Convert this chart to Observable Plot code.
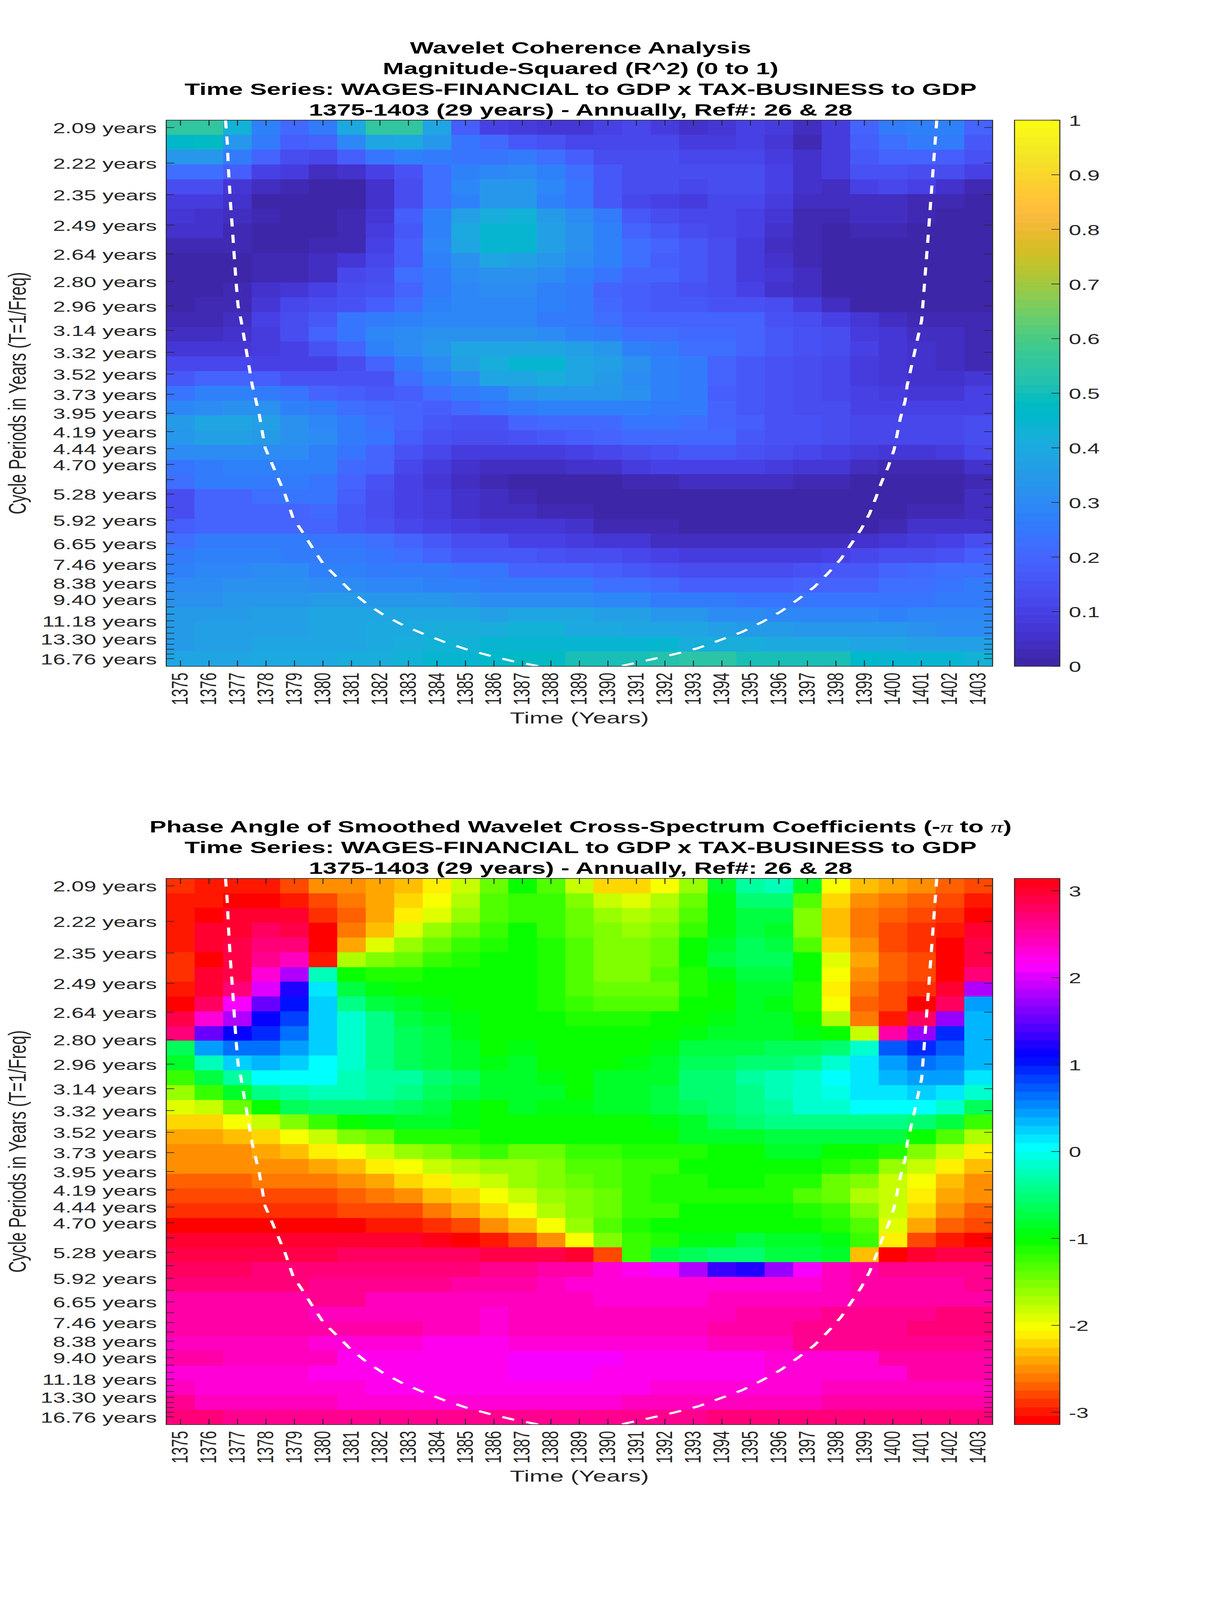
<!DOCTYPE html>
<html>
<head>
<meta charset="utf-8">
<script src="https://cdn.jsdelivr.net/npm/d3@7"></script>
<script src="https://cdn.jsdelivr.net/npm/@observablehq/plot@0.6"></script>
<style>
html,body{margin:0;padding:0;background:#fff;overflow:hidden;}
#page{position:absolute;left:0;top:0;width:3125px;height:6252px;overflow:hidden;font-family:"Liberation Sans",Arial,sans-serif;color:#000;transform-origin:0 0;}
.title{position:absolute;left:0;width:2972px;text-align:center;font-weight:bold;font-size:64.5px;line-height:81px;white-space:nowrap;}
.slot{position:absolute;}
.slot svg{overflow:visible;display:block;}
.pi{font-family:"Liberation Serif",serif;font-weight:normal;font-style:italic;}
</style>
</head>
<body>
<div id="page">
<div class="title" style="top:147px">Wavelet Coherence Analysis<br>Magnitude-Squared (R^2) (0 to 1)<br>Time Series: WAGES-FINANCIAL to GDP x TAX-BUSINESS to GDP<br>1375-1403 (29 years) - Annually, Ref#: 26 &amp; 28</div>
<div class="title" style="top:3190px">Phase Angle of Smoothed Wavelet Cross-Spectrum Coefficients (-<span class="pi">π</span> to <span class="pi">π</span>)<br>Time Series: WAGES-FINANCIAL to GDP x TAX-BUSINESS to GDP<br>1375-1403 (29 years) - Annually, Ref#: 26 &amp; 28</div>
<div class="slot" id="s1" style="left:0;top:449px"></div>
<div class="slot" id="c1" style="left:2596px;top:449px"></div>
<div class="slot" id="s2" style="left:0;top:3412px"></div>
<div class="slot" id="c2" style="left:2596px;top:3412px"></div>
</div>
<script>
// The sandbox window may be shorter than the 6252px figure: fit the height to it so nothing is cut off.
document.getElementById("page").style.transform = "scale(1," + Math.min(1, window.innerHeight/6252) + ")";

const years = d3.range(1375, 1404);
const periods = [2.09,2.22,2.35,2.49,2.64,2.80,2.96,3.14,3.32,3.52,3.73,3.95,4.19,4.44,4.70,4.98,5.28,5.59,5.92,6.27,6.65,7.05,7.46,7.90,8.38,8.88,9.40,9.96,10.56,11.18,11.85,12.55,13.30,14.09,14.92,15.81,16.76];
const unlabelledPeriods = [4.98,5.59,6.27,7.05,7.90,8.88,9.96,10.56,11.85,12.55,14.09,14.92,15.81];

// The image rows are evenly spaced in frequency (1/period); this is the frequency span of the axes
const freqTop = 0.4843, freqBottom = 0.0536;

const coherence = [
[.55,.56,.43,.28,.21,.25,.40,.56,.56,.38,.18,.10,.08,.07,.07,.10,.11,.09,.05,.07,.10,.085,.04,.085,.19,.25,.27,.27,.19],
[.46,.47,.34,.25,.18,.20,.29,.38,.40,.34,.24,.21,.17,.15,.12,.12,.12,.11,.09,.09,.10,.07,.03,.08,.18,.23,.26,.25,.17],
[.34,.34,.26,.19,.13,.115,.18,.24,.27,.26,.24,.235,.26,.23,.18,.14,.13,.13,.115,.115,.115,.08,.05,.09,.17,.19,.20,.18,.15],
[.23,.23,.18,.10,.08,.045,.06,.105,.15,.22,.27,.29,.30,.27,.23,.17,.14,.13,.125,.125,.125,.095,.05,.08,.15,.15,.14,.13,.095],
[.14,.14,.07,.04,.03,.015,.015,.05,.135,.22,.29,.34,.34,.29,.24,.17,.14,.13,.115,.13,.13,.10,.05,.045,.10,.115,.095,.06,.03],
[.085,.08,.055,.015,.01,.01,.015,.05,.13,.22,.28,.33,.33,.28,.24,.17,.12,.10,.09,.11,.11,.09,.04,.04,.035,.035,.03,.025,.01],
[.065,.055,.04,.025,.01,.01,.02,.07,.18,.27,.37,.42,.43,.35,.30,.25,.17,.13,.11,.11,.095,.075,.03,.03,.04,.04,.03,.015,.01],
[.055,.05,.03,.005,.005,.005,.02,.09,.17,.28,.40,.44,.45,.37,.32,.27,.20,.17,.14,.12,.10,.05,.03,.005,.02,.02,.005,.005,.005],
[.02,.02,.025,.005,.01,.025,.03,.095,.18,.29,.38,.44,.45,.37,.32,.27,.23,.19,.16,.13,.085,.045,.03,.005,.005,.005,.005,.005,.005],
[.005,.005,.01,.025,.025,.04,.075,.11,.18,.27,.32,.38,.37,.33,.31,.27,.23,.18,.16,.13,.08,.06,.03,.005,.005,.005,.005,.005,.005],
[.005,.005,.01,.02,.03,.045,.11,.14,.23,.26,.30,.32,.32,.31,.28,.24,.20,.19,.16,.13,.09,.075,.04,.005,.005,.005,.005,.005,.005],
[.01,.005,.02,.05,.075,.10,.125,.15,.19,.26,.29,.30,.30,.28,.25,.19,.18,.17,.15,.13,.10,.05,.04,.015,.005,.005,.005,.005,.005],
[.01,.025,.03,.07,.11,.135,.15,.18,.23,.27,.29,.295,.29,.27,.25,.21,.18,.17,.16,.15,.15,.125,.085,.04,.005,.01,.01,.01,.01],
[.025,.03,.04,.10,.135,.17,.24,.26,.28,.285,.29,.295,.285,.26,.25,.22,.20,.19,.19,.19,.19,.15,.125,.095,.065,.035,.03,.03,.03],
[.04,.04,.05,.09,.13,.19,.24,.29,.31,.32,.325,.32,.32,.30,.28,.25,.23,.22,.21,.21,.195,.17,.145,.125,.085,.065,.04,.035,.03],
[.07,.07,.07,.08,.10,.15,.20,.27,.31,.34,.38,.385,.38,.375,.37,.33,.28,.255,.23,.22,.195,.165,.15,.135,.10,.075,.05,.035,.03],
[.12,.12,.115,.105,.10,.105,.14,.20,.26,.31,.37,.41,.44,.44,.39,.365,.32,.28,.25,.20,.17,.155,.14,.11,.09,.065,.05,.045,.025],
[.16,.19,.19,.18,.155,.145,.145,.155,.22,.275,.30,.38,.385,.41,.38,.35,.31,.275,.25,.19,.16,.15,.14,.115,.08,.075,.06,.055,.07],
[.24,.275,.275,.255,.24,.195,.18,.17,.185,.23,.25,.28,.325,.335,.335,.33,.32,.275,.25,.185,.165,.145,.14,.115,.095,.09,.07,.07,.095],
[.285,.31,.315,.315,.28,.25,.225,.21,.19,.185,.205,.235,.26,.28,.28,.28,.28,.26,.25,.19,.17,.15,.14,.125,.10,.10,.095,.095,.105],
[.345,.375,.375,.365,.32,.285,.25,.22,.19,.165,.155,.155,.20,.21,.215,.215,.24,.24,.23,.20,.175,.15,.145,.125,.12,.11,.11,.12,.14],
[.33,.36,.365,.355,.32,.305,.25,.24,.18,.155,.14,.135,.15,.16,.185,.195,.205,.205,.205,.205,.17,.155,.15,.13,.115,.11,.11,.12,.135],
[.30,.305,.31,.31,.30,.28,.24,.20,.15,.11,.09,.085,.09,.09,.10,.12,.135,.15,.16,.16,.155,.14,.115,.10,.08,.065,.07,.08,.12],
[.24,.26,.275,.275,.275,.28,.21,.195,.11,.09,.055,.035,.04,.04,.055,.055,.08,.095,.105,.105,.10,.09,.075,.065,.035,.03,.03,.03,.05],
[.22,.25,.26,.255,.25,.24,.19,.15,.10,.075,.04,.03,.015,0,0,.005,.03,.03,.04,.04,.04,.035,.025,.02,.005,0,.005,.01,.03],
[.14,.19,.195,.23,.235,.24,.18,.13,.10,.08,.05,.035,.03,.005,0,0,0,0,0,0,0,0,0,0,.005,0,0,.01,.04],
[.14,.19,.195,.20,.20,.205,.17,.13,.10,.09,.06,.04,.04,.03,.025,.005,0,0,0,0,0,0,0,0,0,.015,.02,.02,.045],
[.18,.19,.195,.20,.19,.19,.17,.145,.12,.10,.085,.07,.07,.065,.05,.03,.025,.025,0,0,0,.015,.015,.015,.01,.02,.05,.06,.06],
[.225,.25,.255,.265,.25,.245,.235,.23,.19,.165,.14,.125,.10,.095,.085,.075,.07,.045,.045,.04,.04,.04,.04,.045,.06,.07,.085,.10,.125],
[.25,.27,.27,.27,.265,.26,.25,.24,.22,.20,.17,.16,.16,.155,.14,.13,.115,.105,.09,.09,.09,.09,.09,.105,.12,.13,.14,.155,.18],
[.28,.285,.29,.30,.30,.28,.27,.265,.255,.26,.245,.24,.20,.19,.19,.185,.17,.15,.14,.14,.14,.14,.15,.165,.17,.19,.21,.22,.23],
[.31,.31,.315,.32,.32,.31,.30,.29,.285,.275,.27,.25,.265,.255,.25,.23,.22,.205,.185,.18,.18,.18,.19,.195,.20,.22,.225,.235,.255],
[.32,.32,.33,.34,.34,.345,.345,.335,.335,.33,.315,.305,.31,.30,.30,.295,.285,.26,.255,.25,.24,.24,.24,.24,.235,.24,.245,.25,.265],
[.35,.35,.355,.36,.365,.38,.38,.385,.385,.385,.38,.37,.38,.375,.375,.37,.36,.34,.33,.31,.31,.295,.29,.285,.285,.28,.285,.29,.295],
[.355,.36,.365,.37,.37,.38,.39,.40,.405,.41,.41,.41,.43,.43,.395,.395,.39,.385,.38,.36,.355,.345,.34,.34,.33,.33,.32,.31,.31],
[.35,.36,.365,.375,.375,.38,.39,.40,.42,.43,.43,.44,.45,.45,.45,.45,.45,.44,.42,.41,.41,.405,.40,.395,.385,.38,.37,.365,.36],
[.38,.385,.39,.395,.40,.40,.41,.42,.43,.44,.45,.46,.47,.47,.51,.51,.51,.525,.535,.535,.51,.50,.50,.50,.46,.45,.44,.44,.43]
];

const phase = [
[-2.92,-3.03,-3.0,-3.0,-2.83,-2.55,-2.46,-2.39,-2.3,-2.08,-1.8,-1.45,-1.05,-1.3,-1.8,-2.2,-2.2,-2.0,-1.6,-.85,-.3,-.2,-.85,-1.97,-2.32,-2.4,-2.47,-2.67,-2.84],
[-3.03,-3.03,-3.13,-3.13,-3.03,-2.75,-2.58,-2.4,-2.25,-2.0,-1.75,-1.33,-1.25,-1.2,-1.5,-1.8,-1.9,-1.72,-1.4,-.9,-.5,-.5,-1.3,-2.2,-2.48,-2.58,-2.68,-2.84,-3.03],
[-3.03,-3.14,3.02,2.97,3.03,-2.93,-2.68,-2.42,-2.09,-1.9,-1.6,-1.3,-1.22,-1.18,-1.4,-1.62,-1.74,-1.62,-1.3,-.95,-.7,-.7,-1.5,-2.3,-2.58,-2.68,-2.84,-2.93,-3.14],
[-3.03,3.0,3.0,2.82,2.9,-3.13,-2.58,-2.3,-1.9,-1.6,-1.4,-1.22,-1.07,-1.18,-1.4,-1.5,-1.62,-1.5,-1.25,-.93,-.75,-.85,-1.5,-2.3,-2.58,-2.77,-2.86,-3.03,3.02],
[-3.03,3.0,2.92,2.7,2.68,-3.13,-2.39,-1.9,-1.6,-1.4,-1.22,-1.08,-1.07,-1.17,-1.3,-1.5,-1.5,-1.42,-1.07,-.82,-.63,-.78,-1.3,-2.2,-2.48,-2.77,-2.93,-3.14,2.94],
[-2.93,-3.14,2.94,2.63,2.43,-2.95,-1.74,-1.5,-1.4,-1.25,-1.15,-1.07,-1.06,-1.17,-1.28,-1.5,-1.5,-1.42,-1.05,-.72,-.6,-.62,-1.05,-1.9,-2.39,-2.68,-2.84,-3.14,2.86],
[-2.93,3.0,2.9,2.27,1.85,-.22,-1.05,-1.1,-1.1,-1.07,-1.05,-1.04,-1.05,-1.17,-1.3,-1.5,-1.5,-1.3,-1.17,-.92,-.72,-.78,-1.05,-2.0,-2.48,-2.68,-2.84,-3.14,2.72],
[-3.03,2.98,2.74,2.0,1.22,.12,-.78,-.92,-1.0,-1.03,-1.05,-1.05,-1.04,-1.17,-1.3,-1.4,-1.4,-1.4,-1.17,-1.05,-.85,-.85,-1.17,-2.09,-2.58,-2.77,-2.93,3.02,1.84],
[-3.14,2.77,2.09,1.57,1.05,.2,-.47,-.7,-.85,-.98,-1.03,-1.05,-1.04,-1.17,-1.2,-1.3,-1.3,-1.3,-1.05,-1.05,-.85,-.95,-1.17,-2.0,-2.68,-2.84,-3.14,2.77,.45],
[2.9,2.35,1.77,1.15,.8,.25,-.13,-.48,-.72,-.87,-.95,-1.04,-1.05,-1.05,-1.15,-1.17,-1.17,-1.05,-1.05,-.95,-.85,-.85,-1.05,-1.75,-2.58,-3.03,2.77,1.74,.33],
[2.72,1.57,1.15,.92,.65,.2,-.12,-.47,-.63,-.78,-.92,-1.04,-1.0,-1.04,-1.05,-1.05,-1.05,-1.03,-.92,-.82,-.85,-.85,-.9,-1.05,-1.78,2.55,1.72,.92,.33],
[-.6,.4,.65,.65,.45,.23,-.13,-.47,-.6,-.72,-.87,-1.0,-.98,-1.0,-1.05,-1.05,-1.05,-.95,-.78,-.7,-.7,-.62,-.6,-.5,-.13,.7,.92,.72,.33],
[-.82,-.23,.2,.33,.2,.08,-.1,-.42,-.6,-.72,-.87,-.97,-.85,-1.0,-1.02,-1.03,-.9,-.8,-.68,-.62,-.5,-.5,-.4,-.17,.1,.45,.6,.53,.33],
[-1.2,-.75,-.37,0,0,0,-.2,-.3,-.35,-.55,-.65,-.8,-.85,-.98,-1.0,-.87,-.87,-.8,-.5,-.5,-.37,-.25,-.15,0,.1,.33,.42,.42,.17],
[-1.6,-1.25,-.82,-.45,-.33,-.22,-.28,-.35,-.45,-.6,-.75,-.87,-.82,-.82,-1.0,-.87,-.87,-.72,-.58,-.5,-.4,-.27,-.17,-.07,.1,.1,.2,.1,-.13],
[-1.9,-1.8,-1.45,-1.05,-.65,-.53,-.5,-.55,-.6,-.72,-.9,-1.0,-.8,-.95,-.98,-.85,-.85,-.78,-.68,-.5,-.4,-.3,-.15,-.15,0,0,0,-.1,-.6],
[-2.2,-2.2,-2.0,-1.8,-1.5,-1.2,-1.0,-.9,-.88,-.88,-.95,-1.0,-1.0,-1.0,-1.03,-1.03,-1.04,-.9,-.8,-.68,-.55,-.47,-.4,-.4,-.4,-.4,-.57,-.72,-1.25],
[-2.4,-2.4,-2.32,-2.2,-2.0,-1.8,-1.55,-1.4,-1.17,-1.15,-1.12,-1.07,-1.05,-1.05,-1.05,-1.05,-1.05,-1.02,-.87,-.85,-.85,-.72,-.72,-.72,-.72,-.78,-1.0,-1.32,-1.72],
[-2.47,-2.47,-2.47,-2.39,-2.3,-2.09,-2.0,-1.8,-1.6,-1.5,-1.3,-1.2,-1.45,-1.4,-1.25,-1.25,-1.1,-1.1,-1.08,-1.05,-1.02,-.85,-.85,-1.0,-1.0,-1.12,-1.5,-1.8,-2.09],
[-2.55,-2.55,-2.55,-2.47,-2.47,-2.39,-2.3,-2.09,-2.0,-1.8,-1.72,-1.6,-1.58,-1.48,-1.33,-1.3,-1.2,-1.2,-1.07,-1.05,-1.05,-1.05,-1.07,-1.15,-1.18,-1.62,-1.78,-2.09,-2.3],
[-2.68,-2.68,-2.68,-2.62,-2.58,-2.58,-2.47,-2.39,-2.2,-2.09,-1.87,-1.78,-1.6,-1.5,-1.4,-1.3,-1.2,-1.1,-1.08,-1.06,-1.06,-1.08,-1.1,-1.38,-1.48,-1.78,-2.0,-2.3,-2.47],
[-2.84,-2.84,-2.84,-2.77,-2.77,-2.77,-2.68,-2.58,-2.48,-2.3,-2.2,-2.0,-1.8,-1.62,-1.5,-1.38,-1.25,-1.15,-1.1,-1.1,-1.1,-1.1,-1.3,-1.38,-1.68,-1.8,-2.09,-2.39,-2.55],
[-2.93,-2.93,-2.93,-2.93,-2.93,-2.93,-2.84,-2.84,-2.75,-2.58,-2.39,-2.2,-2.0,-1.75,-1.5,-1.38,-1.25,-1.2,-1.07,-1.05,-1.05,-1.05,-1.13,-1.25,-1.5,-1.78,-2.2,-2.47,-2.67],
[-3.14,-3.14,-3.14,-3.14,-3.14,-3.14,-3.14,-3.03,-3.03,-2.93,-2.77,-2.55,-2.3,-2.0,-1.62,-1.3,-1.12,-1.06,-1.05,-1.05,-1.05,-1.05,-1.05,-1.12,-1.33,-1.87,-2.39,-2.68,-2.84],
[3.02,3.02,3.02,3.02,3.02,3.02,3.02,3.02,3.02,3.08,-3.14,-3.03,-2.84,-2.55,-2.0,-1.5,-1.18,-1.1,-.93,-.93,-.72,-.85,-.85,-.95,-1.25,-2.09,-2.75,-3.03,-3.14],
[2.94,2.94,2.94,2.94,2.94,2.94,2.84,2.84,2.84,2.84,2.84,2.92,2.9,2.88,2.98,-2.84,-1.2,-.78,-.65,-.52,-.52,-.72,-.75,-.85,-2.3,-3.1,2.98,2.9,2.9],
[2.78,2.78,2.78,2.7,2.72,2.72,2.72,2.72,2.72,2.72,2.72,2.62,2.65,2.52,2.52,2.35,2.2,2.09,1.8,1.3,1.22,1.68,2.09,2.37,2.5,2.62,2.62,2.62,2.62],
[2.74,2.74,2.74,2.74,2.74,2.62,2.62,2.62,2.62,2.62,2.52,2.52,2.52,2.37,2.35,2.27,2.27,2.27,2.27,2.27,2.27,2.35,2.35,2.42,2.55,2.55,2.55,2.55,2.65],
[2.55,2.55,2.55,2.55,2.55,2.58,2.58,2.45,2.45,2.45,2.45,2.37,2.37,2.37,2.37,2.27,2.27,2.27,2.27,2.37,2.37,2.45,2.45,2.45,2.55,2.55,2.55,2.55,2.55],
[2.55,2.55,2.55,2.55,2.55,2.45,2.45,2.45,2.45,2.45,2.37,2.35,2.4,2.4,2.4,2.4,2.4,2.4,2.4,2.4,2.52,2.52,2.52,2.6,2.6,2.6,2.6,2.72,2.72],
[2.55,2.55,2.55,2.55,2.55,2.47,2.47,2.47,2.47,2.37,2.37,2.35,2.45,2.45,2.45,2.45,2.45,2.45,2.45,2.52,2.52,2.52,2.6,2.6,2.6,2.6,2.72,2.72,2.72],
[2.42,2.42,2.42,2.42,2.42,2.35,2.33,2.33,2.33,2.24,2.22,2.22,2.3,2.3,2.3,2.3,2.3,2.3,2.3,2.45,2.45,2.45,2.57,2.57,2.57,2.57,2.65,2.65,2.65],
[2.5,2.5,2.37,2.37,2.37,2.37,2.25,2.25,2.25,2.25,2.25,2.25,2.12,2.12,2.12,2.12,2.23,2.23,2.23,2.23,2.23,2.35,2.35,2.35,2.35,2.47,2.47,2.47,2.47],
[2.3,2.3,2.3,2.3,2.3,2.22,2.22,2.22,2.22,2.22,2.22,2.22,2.12,2.12,2.12,2.23,2.23,2.23,2.23,2.23,2.23,2.35,2.35,2.35,2.35,2.35,2.47,2.47,2.47],
[2.42,2.33,2.33,2.33,2.33,2.33,2.33,2.23,2.22,2.22,2.22,2.22,2.2,2.2,2.2,2.2,2.2,2.33,2.33,2.33,2.33,2.33,2.33,2.42,2.42,2.42,2.42,2.42,2.42],
[2.58,2.43,2.43,2.43,2.43,2.43,2.35,2.35,2.35,2.35,2.35,2.35,2.35,2.35,2.35,2.35,2.45,2.45,2.45,2.45,2.45,2.45,2.45,2.55,2.55,2.55,2.55,2.55,2.55],
[2.7,2.7,2.6,2.6,2.6,2.6,2.6,2.6,2.6,2.6,2.6,2.6,2.6,2.6,2.6,2.6,2.6,2.6,2.6,2.7,2.7,2.7,2.7,2.7,2.7,2.7,2.7,2.7,2.7]
];

// Cone of influence: year and frequency read along each branch
const coiLeftYears = [1376.58,1376.64,1376.69,1376.75,1376.82,1376.88,1376.95,1377.02,1377.13,1377.52,1377.76,1377.97,1378.32,1378.67,1378.95,1379.30,1379.65,1380.0,1380.49,1380.98,1381.54,1382.1,1382.8,1383.5,1384.27,1385.04,1385.88,1386.7,1387.56];
const coiLeftFreqs = [.4843,.4669,.4429,.4201,.3989,.3791,.3565,.3379,.3260,.2750,.2526,.2259,.2076,.1890,.1706,.1589,.1464,.1347,.1238,.1129,.1028,.0945,.0861,.0794,.0727,.0669,.0618,.0574,.0537];
const coiRightYears = [1401.54,1401.23,1401.01,1400.76,1400.5,1400.43,1400.26,1400.15,1400.04,1399.84,1399.6,1399.4,1399.18,1398.88,1398.53,1398.17,1397.73,1397.24,1396.68,1396.07,1395.41,1394.7,1393.93,1393.16,1392.33,1391.5,1390.68,1390.48];
const coiRightFreqs = [.4843,.3906,.3265,.3010,.2750,.2629,.2490,.2366,.2243,.2112,.1987,.1864,.1739,.1615,.1498,.1381,.1271,.1161,.1065,.0968,.0885,.0806,.0742,.0679,.0631,.0589,.0548,.0538];

const parula = [[.2422,.1504,.6603],[.2504,.1650,.7076],[.2578,.1818,.7511],[.2647,.1978,.7952],[.2706,.2147,.8364],[.2751,.2342,.8710],[.2783,.2559,.8991],[.2803,.2782,.9221],[.2813,.3006,.9414],[.2810,.3228,.9579],[.2795,.3447,.9717],[.2760,.3667,.9829],[.2699,.3892,.9906],[.2602,.4123,.9952],[.2440,.4358,.9988],[.2206,.4603,.9973],[.1963,.4847,.9892],[.1834,.5074,.9798],[.1786,.5289,.9682],[.1764,.5499,.9520],[.1687,.5703,.9359],[.1540,.5902,.9218],[.1460,.6091,.9079],[.1380,.6276,.8973],[.1248,.6459,.8883],[.1113,.6635,.8763],[.0952,.6798,.8598],[.0689,.6948,.8394],[.0297,.7082,.8163],[.0036,.7203,.7917],[.0067,.7312,.7660],[.0433,.7411,.7394],[.0964,.7500,.7120],[.1408,.7584,.6842],[.1717,.7670,.6554],[.1938,.7758,.6251],[.2161,.7843,.5923],[.2470,.7918,.5567],[.2906,.7973,.5188],[.3406,.8008,.4789],[.3909,.8029,.4354],[.4456,.8024,.3909],[.5044,.7993,.3480],[.5616,.7942,.3045],[.6174,.7876,.2612],[.6720,.7793,.2227],[.7242,.7698,.1910],[.7738,.7598,.1646],[.8203,.7498,.1535],[.8634,.7406,.1596],[.9035,.7330,.1774],[.9393,.7288,.2100],[.9728,.7298,.2394],[.9956,.7434,.2371],[.9970,.7659,.2199],[.9952,.7893,.2028],[.9892,.8136,.1885],[.9786,.8386,.1766],[.9676,.8639,.1643],[.9610,.8890,.1537],[.9597,.9135,.1423],[.9628,.9373,.1265],[.9691,.9606,.1064],[.9769,.9839,.0805]]
  .map(([r,g,b]) => d3.rgb(r*255,g*255,b*255).formatRgb());
const hsvMap = d3.range(64).map(i => d3.hsl(i/64*360,1,.5).formatRgb());

const INK = "#262626";
const FONT = "'Liberation Sans',Arial,sans-serif";
const TICK_FONT = 57, LABEL_FONT = 63;
const plotW = 2115, plotH = 2134, PAD = 20;

function thresholdScale(lo, hi, range) {
  const n = range.length;
  return {type:"threshold", domain:d3.range(1,n).map(i => lo + (hi-lo)*i/n), range};
}

function panel(values, lo, hi, range) {
  const x0 = years[0]-.5, x1 = years[years.length-1]+.5;
  const xTick = (x1-x0)*21/plotW, yTick = (freqTop-freqBottom)*22/plotH;
  return Plot.plot({
    width: 425+plotW+PAD, height: PAD+plotH+320,
    marginLeft: 425, marginRight: PAD, marginTop: PAD, marginBottom: 320,
    style:{fontFamily:FONT, background:"transparent", overflow:"visible"},
    x:{domain:[x0,x1], axis:null},
    y:{domain:[freqBottom,freqTop], axis:null},
    color:thresholdScale(lo,hi,range),
    marks:[
      Plot.raster(values.flat(), {width:29, height:37, x1:x0, x2:x1, y1:freqTop, y2:freqBottom, fill:d=>d, imageRendering:"pixelated"}),
      Plot.line(coiLeftYears.map((y,i)=>({y,f:coiLeftFreqs[i]})), {x:"y", y:"f", stroke:"#fff", strokeWidth:8, strokeDasharray:"32,32", strokeLinecap:"butt"}),
      Plot.line(coiRightYears.map((y,i)=>({y,f:coiRightFreqs[i]})), {x:"y", y:"f", stroke:"#fff", strokeWidth:8, strokeDasharray:"32,32", strokeLinecap:"butt"}),
      Plot.ruleX(years, {x:d=>d, y1:freqBottom, y2:freqBottom+yTick, stroke:INK, strokeWidth:2.5}),
      Plot.ruleX(years, {x:d=>d, y1:freqTop, y2:freqTop-yTick, stroke:INK, strokeWidth:2.5}),
      Plot.ruleY(periods, {y:d=>1/d, x1:x0, x2:x0+xTick, stroke:INK, strokeWidth:2.5}),
      Plot.ruleY(periods, {y:d=>1/d, x1:x1, x2:x1-xTick, stroke:INK, strokeWidth:2.5}),
      Plot.frame({stroke:INK, strokeWidth:2.5}),
      Plot.axisX(years, {anchor:"bottom", label:null, tickSize:0, tickPadding:25, tickRotate:-90, tickFormat:d=>String(d), fontSize:TICK_FONT, fill:INK, stroke:null}),
      Plot.axisY(periods.map(d=>1/d), {anchor:"left", label:null, tickSize:0, tickPadding:24, dy:4, fontSize:TICK_FONT, fill:INK, stroke:null,
        tickFormat:(f,i)=> unlabelledPeriods.includes(periods[i]) ? "" : periods[i].toFixed(2)+" years"}),
      Plot.text(["Time (Years)"], {frameAnchor:"bottom", dy:203, fontSize:LABEL_FONT, fill:INK, lineAnchor:"middle"}),
      Plot.text(["Cycle Periods in Years (T=1/Freq)"], {frameAnchor:"left", textAnchor:"middle", dx:-380, rotate:-90, fontSize:LABEL_FONT, fill:INK, lineAnchor:"middle"})
    ]
  });
}

function colorbar(lo, hi, range, ticks) {
  const n = range.length;
  const levels = d3.range(n-1,-1,-1).map(i => lo+(hi-lo)*(i+.5)/n);
  const tickW = 21/116;
  return Plot.plot({
    width:116+400, height:PAD+plotH+PAD,
    marginLeft:0, marginRight:400, marginTop:PAD, marginBottom:PAD,
    style:{fontFamily:FONT, background:"transparent", overflow:"visible"},
    x:{domain:[0,1], axis:null},
    y:{domain:[lo,hi], axis:null},
    color:thresholdScale(lo,hi,range),
    marks:[
      Plot.raster(levels, {width:1, height:n, x1:0, x2:1, y1:hi, y2:lo, fill:d=>d, imageRendering:"pixelated"}),
      Plot.ruleY(ticks, {y:d=>d, x1:1, x2:1-tickW, stroke:INK, strokeWidth:2.5}),
      Plot.frame({stroke:INK, strokeWidth:2.5}),
      Plot.axisY(ticks, {anchor:"right", label:null, tickSize:0, tickPadding:23, dy:4, fontSize:TICK_FONT, fill:INK, stroke:null, tickFormat:d=>String(d)})
    ]
  });
}

document.getElementById("s1").appendChild(panel(coherence,0,1,parula));
document.getElementById("c1").appendChild(colorbar(0,1,parula,d3.range(0,11).map(i=>i/10)));
document.getElementById("s2").appendChild(panel(phase,-Math.PI,Math.PI,hsvMap));
document.getElementById("c2").appendChild(colorbar(-Math.PI,Math.PI,hsvMap,[-3,-2,-1,0,1,2,3]));
</script>
</body>
</html>
